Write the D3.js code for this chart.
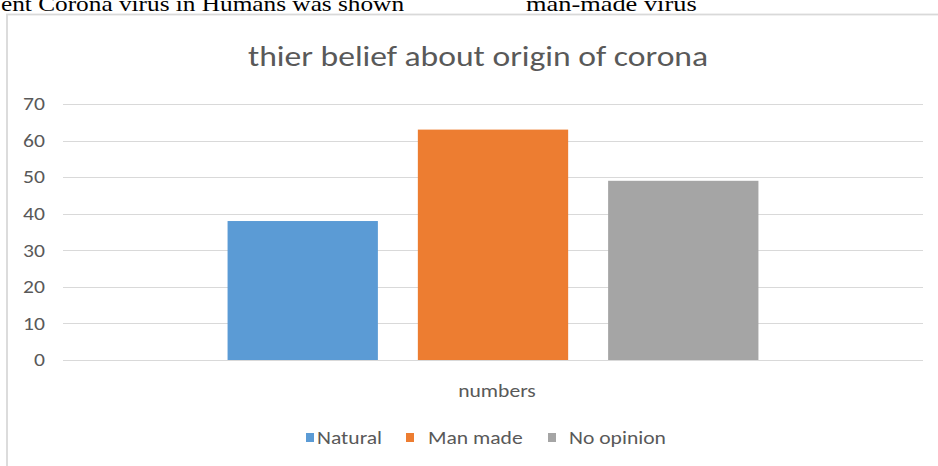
<!DOCTYPE html>
<html>
<head>
<meta charset="utf-8">
<script src="https://cdn.jsdelivr.net/npm/d3@7"></script>
<style>
  body { margin: 0; background: #fff; overflow: hidden; }
  svg { display: block; }
</style>
</head>
<body>
<div id="graphContainer"></div>
<script>
// chart data
var categories = ["numbers"],
    seriesNames = ["Natural", "Man made", "No opinion"],
    seriesValues = [38, 63, 49],
    seriesColors = ["#5b9bd5", "#ed7d31", "#a5a5a5"],
    yTicks = [0, 10, 20, 30, 40, 50, 60, 70];

var width = 938,
    height = 466,
    stretch = 1.2; // the picture is a bit wider than tall, text included

var svg = d3.select("#graphContainer").append("svg")
    .attr("width", width)
    .attr("height", height);

// leftover text of the document above the chart (clipped at the top)
svg.append("text")
    .attr("transform", "translate(1,11) scale(1.15,1)")
    .style("font-family", "Liberation Serif")
    .style("font-size", "22px")
    .attr("fill", "#000")
    .text("ent Corona virus in Humans was shown");

svg.append("text")
    .attr("transform", "translate(526,11) scale(" + stretch + ",1)")
    .style("font-family", "Liberation Serif")
    .style("font-size", "22px")
    .attr("fill", "#000")
    .text("man-made virus");

// chart frame
svg.append("rect")
    .attr("x", 7)
    .attr("y", 14.5)
    .attr("width", 960)
    .attr("height", 480)
    .attr("fill", "#fff")
    .attr("stroke", "#d9d9d9")
    .attr("stroke-width", 1.8);

var margin = {top: 104, left: 63, right: 15, bottom: 106};

var x0 = d3.scaleBand()
    .domain(categories)
    .range([margin.left, width - margin.right])
    .paddingInner(0)
    .paddingOuter(0.31);

var x1 = d3.scaleBand()
    .domain(seriesNames)
    .range([0, x0.bandwidth()])
    .paddingInner(0.21)
    .paddingOuter(0);

var y = d3.scaleLinear()
    .domain([0, 70])
    .range([height - margin.bottom, margin.top]);

var fontFamily = "Carlito, Calibri, 'Open Sans', sans-serif";

// title
svg.append("text")
    .attr("text-anchor", "middle")
    .attr("transform", "translate(478,66) scale(" + stretch + ",1)")
    .style("font-family", fontFamily)
    .style("font-size", "28px")
    .attr("fill", "#595959")
    .text("thier belief about origin of corona");

// gridlines
svg.append("g")
    .selectAll("line")
    .data(yTicks)
    .enter().append("line")
    .attr("x1", margin.left)
    .attr("x2", width - margin.right)
    .attr("y1", function (d) { return Math.round(y(d)) + 0.5; })
    .attr("y2", function (d) { return Math.round(y(d)) + 0.5; })
    .attr("stroke", "#d9d9d9")
    .attr("stroke-width", 1);

// y axis labels
var yAxis = d3.axisLeft(y).tickValues(yTicks).tickSize(0).tickPadding(0);
var yg = svg.append("g")
    .attr("transform", "translate(45,0)")
    .call(yAxis);
yg.select(".domain").remove();
yg.selectAll("text")
    .attr("x", 0)
    .attr("transform", "scale(" + stretch + ",1)")
    .style("font-family", fontFamily)
    .style("font-size", "18px")
    .attr("fill", "#595959");

// bars
var barData = seriesNames.map(function (name, i) {
    return {name: name, value: seriesValues[i], color: seriesColors[i], category: categories[0]};
});

svg.append("g")
    .selectAll("rect")
    .data(barData)
    .enter().append("rect")
    .attr("x", function (d) { return x0(d.category) + x1(d.name); })
    .attr("y", function (d) { return y(d.value); })
    .attr("width", x1.bandwidth())
    .attr("height", function (d) { return y(0) - y(d.value); })
    .attr("fill", function (d) { return d.color; });

// x axis line on top of bars
svg.append("line")
    .attr("x1", margin.left)
    .attr("x2", width - margin.right)
    .attr("y1", Math.round(y(0)) + 0.5)
    .attr("y2", Math.round(y(0)) + 0.5)
    .attr("stroke", "#d9d9d9");

// category label
var xAxis = d3.axisBottom(x0).tickSize(0).tickPadding(0);
var xg = svg.append("g")
    .attr("transform", "translate(4," + (y(0) + 24) + ")")
    .call(xAxis);
xg.select(".domain").remove();
xg.selectAll("text")
    .attr("transform", "scale(" + stretch + ",1)")
    .style("font-family", fontFamily)
    .style("font-size", "18px")
    .attr("fill", "#595959");

// legend
var legendX = [306, 406, 548];
var legend = svg.append("g")
    .selectAll("g")
    .data(barData)
    .enter().append("g")
    .attr("transform", function (d, i) { return "translate(" + legendX[i] + ",444)"; });

legend.append("rect")
    .attr("x", 0)
    .attr("y", -11)
    .attr("width", 8)
    .attr("height", 9)
    .attr("fill", function (d) { return d.color; });

legend.append("text")
    .attr("transform", function (d, i) { return "translate(" + [11, 22, 21][i] + ",0) scale(" + stretch + ",1)"; })
    .style("font-family", fontFamily)
    .style("font-size", "18px")
    .attr("fill", "#595959")
    .text(function (d) { return d.name; });
</script>
</body>
</html>
